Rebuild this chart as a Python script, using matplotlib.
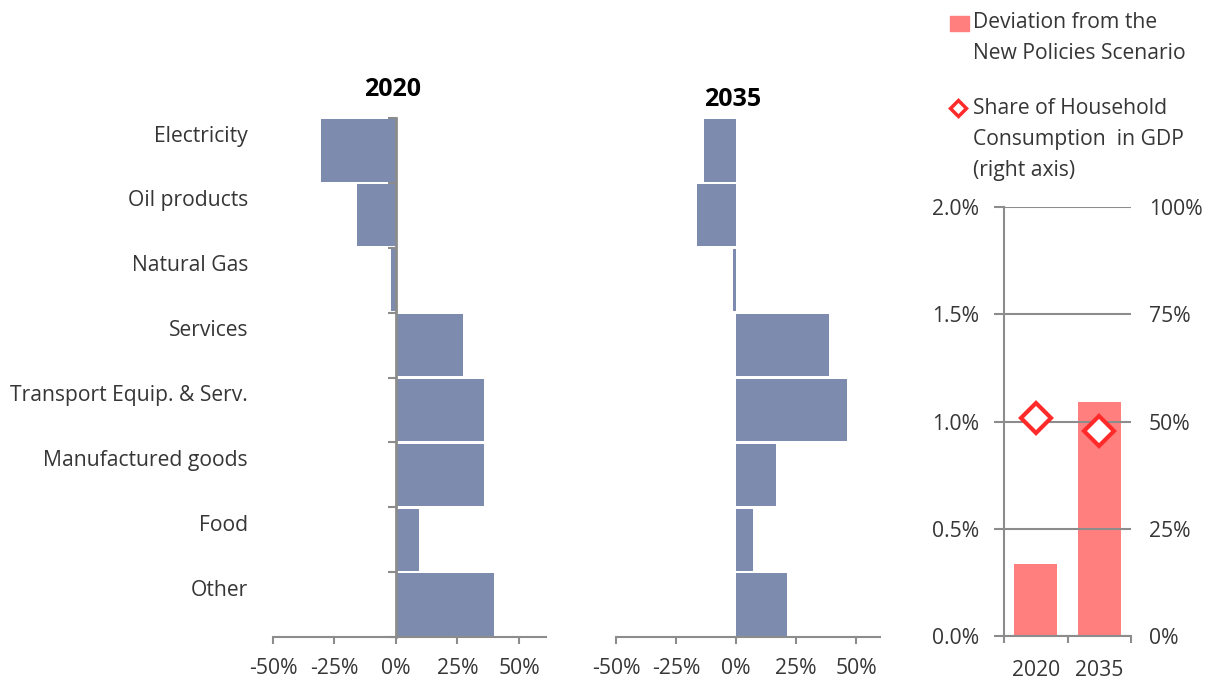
import matplotlib.pyplot as plt
import matplotlib.ticker as ticker
from matplotlib.lines import Line2D
from matplotlib.patches import Rectangle

# categories, top to bottom
categories = ['Electricity', 'Oil products', 'Natural Gas', 'Services',
              'Transport Equip. & Serv.', 'Manufactured goods', 'Food', 'Other']
dev_2020 = [-30.5, -15.8, -2.0, 27.4, 35.7, 35.7, 9.4, 39.8]   # %
dev_2035 = [-13.3, -16.1, -1.2, 38.9, 46.4, 16.5, 7.1, 21.4]   # %
pct_ticks = [-50, -25, 0, 25, 50]

years = ['2020', '2035']
gdp_deviation = [0.334, 1.093]     # % of GDP (left axis)
household_share = [50.9, 47.8]     # % (right axis)
left_ticks = [0.0, 0.5, 1.0, 1.5, 2.0]
right_ticks = [0, 25, 50, 75, 100]

plt.rcParams['font.family'] = ['Open Sans', 'DejaVu Sans']
txt = '#363636'
grey = '#8c8c8c'
blue = '#7d8bae'
pink = '#ff7f7f'
red = '#ff2a2a'
fs = 15.2

W, H = 1218, 683
fig = plt.figure(figsize=(W / 100, H / 100), dpi=100)


def box(x0, x1, y0, y1):
    # pixel box -> figure fraction
    return [x0 / W, 1 - y1 / H, (x1 - x0) / W, (y1 - y0) / H]


def hbar_panel(ax, values, xmax, show_axis):
    ypos = list(range(len(categories)))
    ax.barh(ypos, values, height=0.96, color=blue, zorder=1)
    ax.set_ylim(len(categories) - 0.5, -0.5)
    ax.set_xlim(-50, xmax)
    ax.set_xticks(pct_ticks)
    ax.xaxis.set_major_formatter(ticker.FuncFormatter(lambda v, p: '%d%%' % v))
    ax.tick_params(axis='x', length=5, width=1.5, color=grey, labelcolor=txt,
                   labelsize=fs, pad=10)
    for s in ['top', 'right']:
        ax.spines[s].set_visible(False)
    ax.spines['bottom'].set_color(grey)
    ax.spines['bottom'].set_linewidth(1.5)
    ax.spines['bottom'].set_bounds(-50, xmax)
    if show_axis:
        ax.spines['left'].set_position(('data', 0))
        ax.spines['left'].set_color(grey)
        ax.spines['left'].set_linewidth(2)
        # labels sit a bit above the bar centres, as in the original
        ax.set_yticks([y - 0.26 for y in ypos])
        ax.set_yticklabels(categories)
        ax.set_yticks([y - 0.5 for y in range(len(categories) + 1)], minor=True)
        ax.tick_params(axis='y', which='major', length=0, labelsize=fs,
                       labelcolor=txt, pad=106.5)
        ax.tick_params(axis='y', which='minor', length=5.5, width=1.5, color=grey)
    else:
        ax.spines['left'].set_visible(False)
        ax.set_yticks([])


ax1 = fig.add_axes(box(273, 546, 118, 637))
hbar_panel(ax1, dev_2020, 61, True)
ax2 = fig.add_axes(box(616, 880, 118, 637))
hbar_panel(ax2, dev_2035, 60, False)

fig.text(393 / W, 1 - 89 / H, '2020', ha='center', va='center',
         fontsize=18, fontweight='bold', color='black')
fig.text(733 / W, 1 - 99 / H, '2035', ha='center', va='center',
         fontsize=18, fontweight='bold', color='black')

# right panel: GDP deviation and household share
ax3 = fig.add_axes(box(1004, 1131, 207, 636))
xpos = list(range(len(years)))
ax3.bar(xpos, gdp_deviation, width=0.685, color=pink, zorder=1)
ax3.set_xlim(-0.5, 1.5)
ax3.set_ylim(0, 2.0)
ax3.set_yticks(left_ticks)
ax3.yaxis.set_major_formatter(ticker.FuncFormatter(lambda v, p: '%.1f%%' % v))
ax3.tick_params(axis='y', length=7, width=1.5, color=grey, labelcolor=txt,
                labelsize=fs, pad=11)
ax3.grid(axis='y', color=grey, linewidth=1.5, zorder=2)
ax3.set_xticks(xpos)
ax3.set_xticklabels(years)
ax3.set_xticks([-0.5, 0.5, 1.5], minor=True)
ax3.tick_params(axis='x', which='major', length=0, labelsize=fs,
                labelcolor=txt, pad=17)
ax3.tick_params(axis='x', which='minor', length=5, width=1.5, color=grey)
for s in ['top', 'right']:
    ax3.spines[s].set_visible(False)
for s in ['left', 'bottom']:
    ax3.spines[s].set_color(grey)
    ax3.spines[s].set_linewidth(1.5)

ax4 = ax3.twinx()
ax4.set_ylim(0, 100)
ax4.set_yticks(right_ticks)
ax4.yaxis.set_major_formatter(ticker.FuncFormatter(lambda v, p: '%d%%' % v))
ax4.tick_params(axis='y', length=0, labelcolor=txt, labelsize=fs, pad=13)
for s in ax4.spines.values():
    s.set_visible(False)
ax4.plot(xpos, household_share, ls='none', marker='D', ms=15,
         mfc='white', mec=red, mew=3, zorder=5)

# legend, top right
fig.add_artist(Rectangle((950 / W, 1 - 31 / H), 19 / W, 15 / H,
                         transform=fig.transFigure, color=pink))
fig.text(973 / W, 1 - 12 / H, 'Deviation from the\nNew Policies Scenario',
         ha='left', va='top', fontsize=fs, color=txt, linespacing=1.62)
fig.add_artist(Line2D([958 / W], [1 - 108 / H], transform=fig.transFigure,
                      marker='D', ms=8.5, mfc='white', mec=red, mew=2.5))
fig.text(973 / W, 1 - 98 / H,
         'Share of Household\nConsumption  in GDP\n(right axis)',
         ha='left', va='top', fontsize=fs, color=txt, linespacing=1.62)

fig.savefig('out.png', dpi=100)
